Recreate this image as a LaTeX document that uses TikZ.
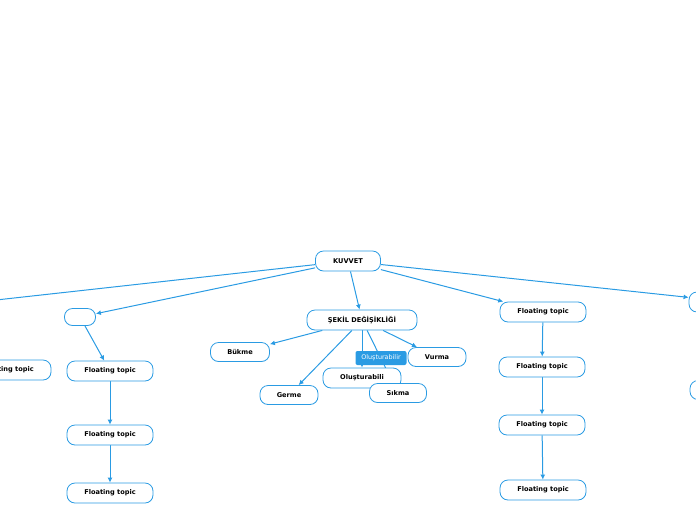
\documentclass[tikz,border=0pt]{standalone}
\usepackage{fontspec}
\setmainfont{DejaVu Sans}
\usetikzlibrary{arrows.meta}
\usetikzlibrary{backgrounds}
\definecolor{mapblue}{HTML}{2A9BE3}

\begin{document}
\begin{tikzpicture}[x = 1pt, y = -1pt]
\tikzstyle{TopicStyle}=[draw = mapblue, fill = white,
                        rounded corners = 8pt,
                        line width = 0.8pt,
                        minimum height = 20pt, inner sep = 0pt,
                        font = \fontsize{6.6}{8}\selectfont\bfseries]
\tikzstyle{LinkStyle}=[draw = mapblue, line width = 1pt,
                       -{Latex[length = 5pt, width = 5pt]}]
\tikzstyle{LabelStyle}=[fill = mapblue, text = white,
                        rounded corners = 2pt, inner sep = 0pt,
                        minimum width = 51pt, minimum height = 14pt,
                        font = \fontsize{6.4}{8}\selectfont]
\useasboundingbox (0,0) rectangle (696,520);
% main topic
\node[TopicStyle, minimum width = 65pt] (kuvvet) at (348,261) {KUVVET};
\node[TopicStyle, minimum width = 110pt] (sekil) at (362,320) {ŞEKİL DEĞİŞİKLİĞİ};
\coordinate (offleft) at (-40,304);
% left side
\node[TopicStyle, minimum width = 86pt] (farleft) at (8,370) {Floating topic};
\node[TopicStyle, minimum width = 31pt, minimum height = 17pt] (empty) at (80,317) {};
\node[TopicStyle, minimum width = 86pt] (lefta) at (110,371) {Floating topic};
\node[TopicStyle, minimum width = 86pt] (leftb) at (110,435) {Floating topic};
\node[TopicStyle, minimum width = 86pt] (leftc) at (110,493) {Floating topic};
% deformation kinds
\node[TopicStyle, minimum width = 59pt, minimum height = 19pt] (bukme) at (240,352) {Bükme};
\node[TopicStyle, minimum width = 58pt, minimum height = 19pt] (germe) at (289,395) {Germe};
\node[TopicStyle, minimum width = 78pt] (olus) at (362,378) {Oluşturabili};
\node[TopicStyle, minimum width = 57pt, minimum height = 19pt] (sikma) at (398,393) {Sıkma};
\node[TopicStyle, minimum width = 58pt, minimum height = 19pt] (vurma) at (437,357) {Vurma};
% right side
\node[TopicStyle, minimum width = 86pt] (righta) at (543,312) {Floating topic};
\node[TopicStyle, minimum width = 86pt] (rightb) at (542,367) {Floating topic};
\node[TopicStyle, minimum width = 86pt] (rightc) at (542,425) {Floating topic};
\node[TopicStyle, minimum width = 86pt] (rightd) at (543,490) {Floating topic};
\node[TopicStyle, minimum width = 86pt] (farright) at (732,302) {};
\node[TopicStyle, minimum width = 86pt, minimum height = 19pt] (farrightb) at (733,390) {};
% link label
\node[LabelStyle] (olusLabel) at (381,358) {Oluşturabilir};
\begin{pgfonlayer}{background}
\draw[LinkStyle] (kuvvet) -- (offleft);
\draw[LinkStyle] (kuvvet) -- (empty);
\draw[LinkStyle] (kuvvet) -- (sekil);
\draw[LinkStyle] (kuvvet) -- (righta);
\draw[LinkStyle] (kuvvet) -- (farright);
\draw[LinkStyle] (empty) -- (lefta);
\draw[LinkStyle] (lefta) -- (leftb);
\draw[LinkStyle] (leftb) -- (leftc);
\draw[LinkStyle] (righta) -- (rightb);
\draw[LinkStyle] (rightb) -- (rightc);
\draw[LinkStyle] (rightc) -- (rightd);
\draw[LinkStyle] (sekil) -- (bukme);
\draw[LinkStyle] (sekil) -- (germe);
\draw[LinkStyle] (sekil) -- (olus);
\draw[LinkStyle] (sekil) -- (sikma);
\draw[LinkStyle] (sekil) -- (vurma);
\end{pgfonlayer}
\end{tikzpicture}
\end{document}
